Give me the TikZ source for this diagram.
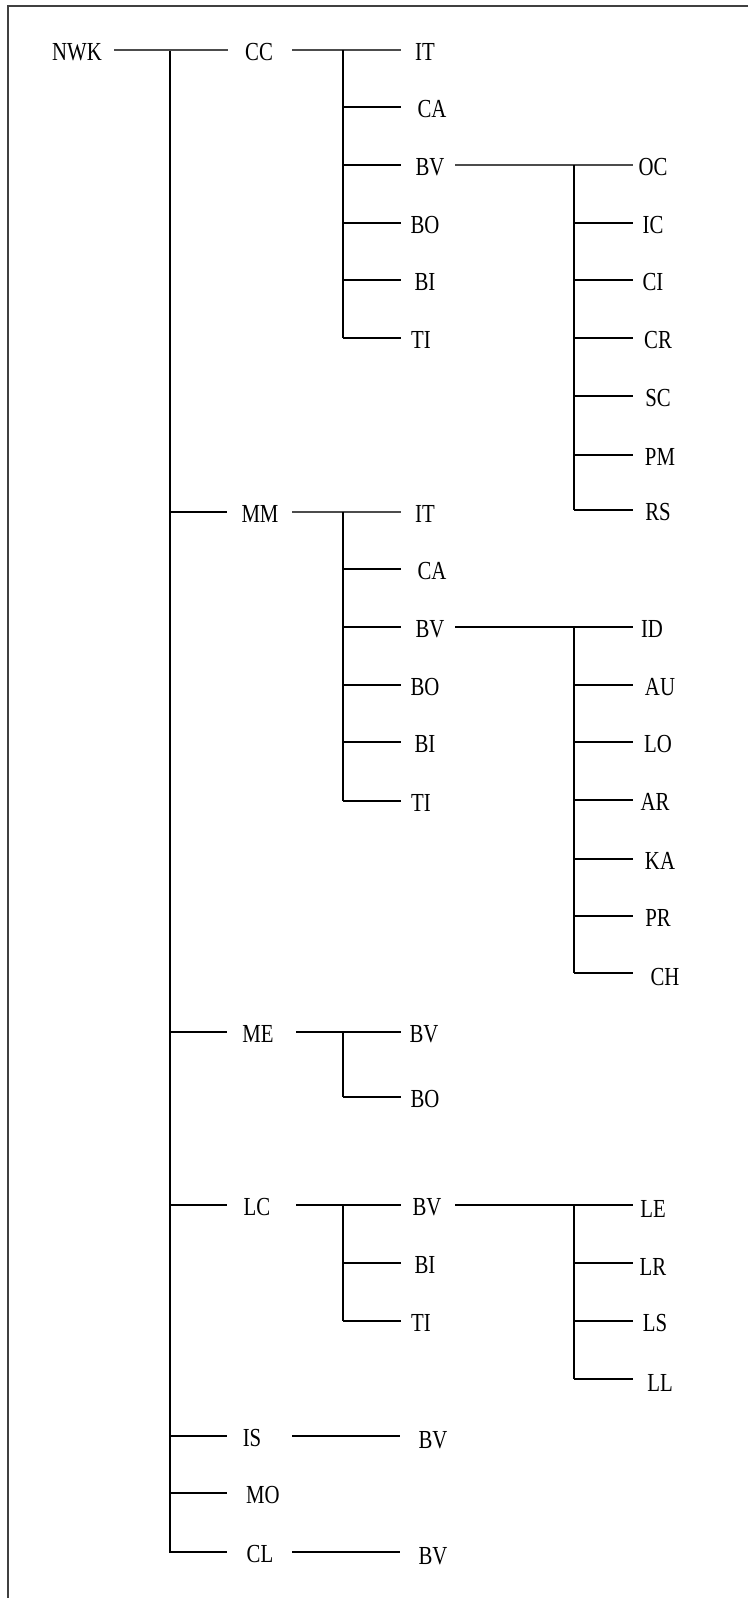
\documentclass[tikz,border=0pt]{standalone}
\usepackage{fontspec}
\setmainfont{Liberation Serif}
\newfontfamily\lbfont[FakeStretch=0.8]{Liberation Serif}
\begin{document}
\begin{tikzpicture}[x=1pt,y=-1pt,
  lbl/.style={inner sep=0pt, font=\lbfont\fontsize{26}{26}\selectfont},
  ln/.style={line width=2.2pt, black},
  thinln/.style={line width=1.4pt, black!70},
  frame/.style={line width=1.6pt, black!75}]
\useasboundingbox (0,0) rectangle (748,1598);
% frame (top and left edges)
\coordinate (fTL) at (8,5.7);
\coordinate (fTR) at (748,5.7);
\coordinate (fBL) at (8,1598);
\draw[frame] (fTR) -- (fTL) -- (fBL);
% labels
\foreach \n/\t/\x/\y in {
  nwk/NWK/77/50,
  cc/CC/259/50, mm/MM/260/512, me/ME/258/1032, lc/LC/257/1205,
  is/IS/252/1436, mo/MO/263/1493, cl/CL/260/1552,
  ccit/IT/425/50, ccca/CA/432/107, ccbv/BV/430/165, ccbo/BO/425/223, ccbi/BI/425/280, ccti/TI/421/338,
  mmit/IT/425/512, mmca/CA/432/569, mmbv/BV/430/627, mmbo/BO/425/685, mmbi/BI/425/742, mmti/TI/421/801,
  mebv/BV/424/1032, mebo/BO/425/1097,
  lcbv/BV/427/1205, lcbi/BI/425/1263, lcti/TI/421/1321,
  isbv/BV/433/1438, clbv/BV/433/1554,
  oc/OC/653/165, ic/IC/653/223, ci/CI/653/280, cr/CR/658/338, sc/SC/658/396, pm/PM/660/455, rs/RS/658/510,
  id/ID/652/627, au/AU/660/685, lo/LO/658/742, ar/AR/655/800, ka/KA/660/859, pr/PR/658/916, ch/CH/665/975,
  le/LE/653/1207, lr/LR/653/1265, ls/LS/655/1321, ll/LL/660/1381}
  \node[lbl] (\n) at (\x,\y+2) {\t};
% main bus
\coordinate (b0t) at (170,50);
\coordinate (b0b) at (170,1553);
\draw[ln] (b0t) -- (b0b);
\draw[thinln] (114,50) -- (228,50);
\foreach \y in {512,1032,1205,1436,1493,1552}
  \draw[ln] (170,\y) -- (227,\y);
% level-2 lines from level-1 nodes
\draw[thinln] (292,50) -- (401,50);
\draw[thinln] (292,512) -- (401,512);
\draw[ln] (296,1032) -- (401,1032);
\draw[ln] (296,1205) -- (401,1205);
\draw[ln] (292,1436) -- (400,1436);
\draw[ln] (292,1552) -- (400,1552);
% level-2 buses
\draw[ln] (343,50) -- (343,338);
\draw[ln] (343,512) -- (343,801);
\draw[ln] (343,1032) -- (343,1097);
\draw[ln] (343,1205) -- (343,1321);
\foreach \y in {107,165,223,280,338, 569,627,685,742,801, 1097, 1263,1321}
  \draw[ln] (343,\y) -- (401,\y);
% level-3 lines
\draw[thinln] (455,165) -- (633,165);
\draw[ln] (455,627) -- (633,627);
\draw[ln] (455,1205) -- (633,1205);
\draw[ln] (574,165) -- (574,510);
\draw[ln] (574,627) -- (574,973);
\draw[ln] (574,1205) -- (574,1379);
\foreach \y in {223,280,338,396,455,510, 685,742,800,859,916,973, 1263,1321,1379}
  \draw[ln] (574,\y) -- (633,\y);
\end{tikzpicture}
\end{document}
